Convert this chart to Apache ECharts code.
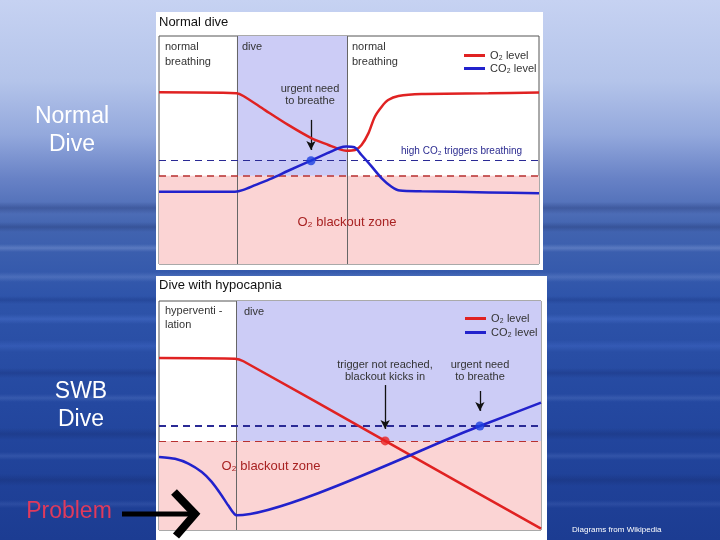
<!DOCTYPE html>
<html>
<head>
<meta charset="utf-8">
<script src="https://cdn.jsdelivr.net/npm/echarts@6/dist/echarts.min.js"></script>
<style>html,body{margin:0;padding:0;}#c{width:720px;height:540px;}</style>
</head>
<body>
<div id="c"></div>
<script>
// ---- Data (x: 0-100 time across panel, y: 0-100 gas level) ----
const o2Normal = [[0,75.3],[20.4,74.9],[22.2,73.7],[27.9,67.5],[34.0,61.0],[40.2,55.1],[44.6,52.2],[47.6,50.3],[49.3,49.7],[51.6,50.0],[53.3,52.2],[55.1,57.3],[56.8,64.6],[58.6,69.0],[60.3,71.9],[63.0,73.7],[69.1,74.6],[86.7,74.9],[100,75.2]];
const co2Normal = [[0,31.7],[20.0,31.7],[22.2,32.5],[25.3,34.6],[29.7,37.6],[34.0,40.9],[40.0,45.3],[44.6,48.8],[47.6,51.0],[49.3,51.5],[51.4,51.2],[53.3,47.8],[56.0,42.7],[58.6,37.6],[61.2,33.9],[63.4,32.2],[69.1,31.9],[86.7,31.4],[100,31.0]];
const o2Hypo = [[0,75.1],[19.9,74.8],[22.1,73.7],[59.2,38.9],[100,0.6]];
const co2Hypo = [[0,31.9],[4.2,31.1],[7.7,29.0],[11.2,25.3],[13.8,21.0],[16.4,15.1],[18.1,10.8],[20.3,6.4],[84.0,45.4],[100,55.6]];
const phaseNormal = [20.5, 49.5];
const phaseHypo = [20.3];
const co2Trigger = [45.3, 45.4];
const o2Blackout = [38.7, 38.9];
const dotNormal = [[40.0,45.3]];
const dotHypoO2 = [[59.2,38.9]];
const dotHypoCO2 = [[84.0,45.4]];
const arrowsNormal = [[[40.0,63.2],[40.0,50.0]]];
const arrowsHypo = [[[59.2,63.3],[59.2,44.1]],[[84.0,60.7],[84.0,52.0]]];
const legendNames = ['O₂ level','CO₂ level'];

const RED = '#e02222', BLUE = '#2222cc';
const SHADE_BLUE = '#ccccf6', SHADE_PINK = '#fbd4d4';
const FF = '"Liberation Sans", Arial, sans-serif';

function areas(xFrom, xTo, yb){
  return [
    [{coord:[0,0], itemStyle:{color:SHADE_PINK}}, {coord:[100,yb]}],
    [{coord:[xFrom,yb], itemStyle:{color:SHADE_BLUE}}, {coord:[xTo,100]}]
  ];
}
function lines(phases, trig, blk, trigW, blkW){
  const d = phases.map(x => ({xAxis:x, lineStyle:{color:'#666', width:1, type:'solid'}}));
  d.push({yAxis:trig, lineStyle:{color:'#2a2a95', width:trigW, type:[7,5]}});
  d.push({yAxis:blk, lineStyle:{color:'#b83030', width:blkW, type:[7,5]}});
  return d;
}
function arrows(list){
  return list.map(a => [{coord:a[0]},{coord:a[1]}]);
}

const series = [
  {name:legendNames[0], type:'line', xAxisIndex:0, yAxisIndex:0, data:o2Normal, smooth:0.3, showSymbol:false,
   lineStyle:{color:RED,width:2.5}, itemStyle:{color:RED}, z:5,
   markArea:{silent:true, data:areas(phaseNormal[0], phaseNormal[1], o2Blackout[0])},
   markLine:{silent:true, symbol:['none','none'], label:{show:false}, data:lines(phaseNormal, co2Trigger[0], o2Blackout[0], 1, 1.6)}},
  {name:legendNames[1], type:'line', xAxisIndex:0, yAxisIndex:0, data:co2Normal, smooth:0.3, showSymbol:false,
   lineStyle:{color:BLUE,width:2.5}, itemStyle:{color:BLUE}, z:5,
   markLine:{silent:true, symbol:['none','arrow'], symbolSize:[7,9], label:{show:false}, lineStyle:{color:'#111',width:1.3,type:'solid'}, data:arrows(arrowsNormal)}},
  {type:'scatter', xAxisIndex:0, yAxisIndex:0, data:dotNormal, symbolSize:9, itemStyle:{color:'#1a3ee0'}, z:6, silent:true},

  {name:legendNames[0], type:'line', xAxisIndex:1, yAxisIndex:1, data:o2Hypo, smooth:0.2, showSymbol:false,
   lineStyle:{color:RED,width:2.5}, itemStyle:{color:RED}, z:5,
   markArea:{silent:true, data:areas(phaseHypo[0], 100, o2Blackout[1])},
   markLine:{silent:true, symbol:['none','none'], label:{show:false}, data:lines(phaseHypo, co2Trigger[1], o2Blackout[1], 2, 1)}},
  {name:legendNames[1], type:'line', xAxisIndex:1, yAxisIndex:1, data:co2Hypo, smooth:0.2, showSymbol:false,
   lineStyle:{color:BLUE,width:2.5}, itemStyle:{color:BLUE}, z:5,
   markLine:{silent:true, symbol:['none','arrow'], symbolSize:[7,9], label:{show:false}, lineStyle:{color:'#111',width:1.3,type:'solid'}, data:arrows(arrowsHypo)}},
  {type:'scatter', xAxisIndex:1, yAxisIndex:1, data:dotHypoO2, symbolSize:9, itemStyle:{color:'#e82020'}, z:6, silent:true},
  {type:'scatter', xAxisIndex:1, yAxisIndex:1, data:dotHypoCO2, symbolSize:9, itemStyle:{color:'#1a3ee0'}, z:6, silent:true}
];

function txt(text, x, y, o){
  o = o || {};
  return {type:'text', x:x, y:y, z:o.z||20, silent:true, style:{text:text, fill:o.fill||'#333', fontSize:o.size||11, fontFamily:FF,
    align:o.align||'left', verticalAlign:'middle', lineHeight:o.lh||13, fontWeight:o.weight||'normal'}};
}

// decorative soft water streaks of the slide background: [y, height, rgb, alpha]
const streaks = [
  [202,12,'30,50,110',0.35],[222,10,'30,45,100',0.3],[244,8,'180,200,245',0.25],[272,10,'160,185,240',0.22],
  [296,8,'20,45,120',0.3],[314,10,'90,130,225',0.3],[340,12,'80,120,220',0.28],[368,10,'20,40,110',0.3],
  [394,8,'120,150,220',0.22],[428,12,'20,40,105',0.3],[452,8,'110,140,215',0.22],[474,12,'20,40,105',0.3],[500,8,'100,130,210',0.2]
];
function streakRects(){
  const r = [];
  streaks.forEach(s => {
    const c = 'rgba(' + s[2] + ',' + s[3] + ')', t = 'rgba(' + s[2] + ',0)';
    r.push({type:'rect', z:-20, silent:true, shape:{x:0,y:s[0],width:720,height:s[1]},
      style:{fill:{type:'linear',x:0,y:0,x2:0,y2:1,colorStops:[{offset:0,color:t},{offset:0.5,color:c},{offset:1,color:t}]}}});
  });
  return r;
}

const graphic = streakRects().concat([
  {type:'rect', z:-10, silent:true, shape:{x:156,y:12,width:387,height:258}, style:{fill:'#ffffff'}},
  {type:'rect', z:-10, silent:true, shape:{x:156,y:276,width:391,height:264}, style:{fill:'#ffffff'}},
  // slide labels
  txt('Normal', 72, 117, {fill:'#ffffff', size:23, align:'center'}),
  txt('Dive', 72, 145, {fill:'#ffffff', size:23, align:'center'}),
  txt('SWB', 81, 392, {fill:'#ffffff', size:23, align:'center'}),
  txt('Dive', 81, 420, {fill:'#ffffff', size:23, align:'center'}),
  txt('Problem', 69, 512, {fill:'#e03a5c', size:23, align:'center'}),
  txt('Diagrams from Wikipedia', 572, 530, {fill:'#ffffff', size:8}),
  // big arrow
  {type:'line', z:30, silent:true, shape:{x1:122,y1:514,x2:192,y2:514}, style:{stroke:'#000',lineWidth:5}},
  {type:'polyline', z:30, silent:true, shape:{points:[[174,492],[195,514],[176,536]]}, style:{stroke:'#000',lineWidth:8,fill:null,lineJoin:'miter'}},
  // panel 1 texts
  txt('Normal dive', 159, 22, {fill:'#111', size:13}),
  txt('normal\nbreathing', 165, 54, {lh:15}),
  txt('dive', 242, 47),
  txt('normal\nbreathing', 352, 54, {lh:15}),
  txt('urgent need\nto breathe', 310, 95, {align:'center', lh:12}),
  txt('high CO₂ triggers breathing', 401, 151, {fill:'#2b2b90', size:10}),
  txt('O₂ blackout zone', 347, 222, {fill:'#a82222', size:13, align:'center'}),
  // panel 2 texts
  txt('Dive with hypocapnia', 159, 285, {fill:'#111', size:13}),
  txt('hyperventi -\nlation', 165, 318, {lh:14}),
  txt('dive', 244, 312),
  txt('trigger not reached,\nblackout kicks in', 385, 371, {align:'center', lh:12}),
  txt('urgent need\nto breathe', 480, 371, {align:'center', lh:12}),
  txt('O₂ blackout zone', 271, 466, {fill:'#a82222', size:13, align:'center'})
]);

const legendCommon = {orient:'vertical', icon:'rect', itemWidth:21, itemHeight:3, selectedMode:false,
  textStyle:{fontSize:11, color:'#333', fontFamily:FF}, data:legendNames};

const option = {
  animation:false,
  backgroundColor:{type:'linear',x:0,y:0,x2:0,y2:1,colorStops:[
    {offset:0,color:'#c6d2f2'},{offset:0.15,color:'#b4c4ea'},{offset:0.25,color:'#93a8dc'},
    {offset:0.33,color:'#6882c6'},{offset:0.42,color:'#4264b0'},{offset:0.55,color:'#2e54aa'},
    {offset:0.75,color:'#2448a0'},{offset:1,color:'#1c3c92'}]},
  grid:[
    {left:159, top:36, width:380, height:228, show:true, backgroundColor:'#ffffff', borderColor:'#555', borderWidth:1},
    {left:159, top:301, width:382, height:229, show:true, backgroundColor:'#ffffff', borderColor:'#555', borderWidth:1}
  ],
  xAxis:[
    {type:'value', gridIndex:0, min:0, max:100, show:false},
    {type:'value', gridIndex:1, min:0, max:100, show:false}
  ],
  yAxis:[
    {type:'value', gridIndex:0, min:0, max:100, show:false},
    {type:'value', gridIndex:1, min:0, max:100, show:false}
  ],
  legend:[
    Object.assign({left:459, top:45, itemGap:2}, legendCommon),
    Object.assign({left:460, top:308, itemGap:3}, legendCommon)
  ],
  series:series,
  graphic:graphic
};
const chart = echarts.init(document.getElementById('c'), null, {renderer:'canvas'});
chart.setOption(option);
</script>
</body>
</html>
